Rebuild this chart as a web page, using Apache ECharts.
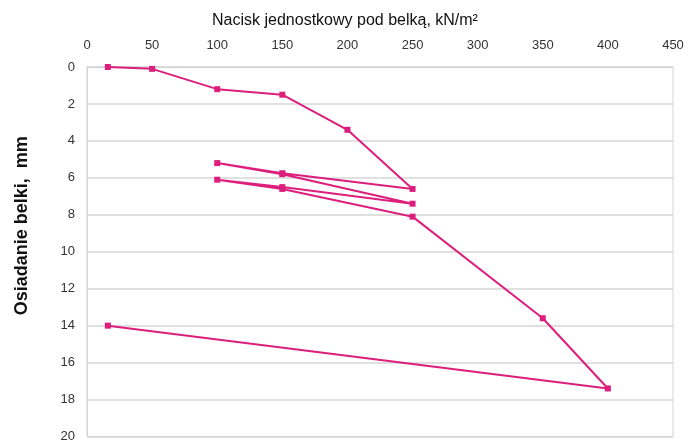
<!DOCTYPE html>
<html>
<head>
<meta charset="utf-8">
<script src="https://cdn.jsdelivr.net/npm/echarts@6/dist/echarts.min.js"></script>
<style>html,body{margin:0;padding:0;background:#fff}#c{width:691px;height:443px}</style>
</head>
<body>
<div id="c"></div>
<script>
var pressure = [16, 50, 100, 150, 200, 250, 150, 100, 150, 250, 150, 100, 150, 250, 350, 400, 16];
var settlement = [0, 0.1, 1.2, 1.5, 3.4, 6.6, 5.75, 5.2, 5.8, 7.4, 6.5, 6.1, 6.6, 8.1, 13.6, 17.4, 14.0];
var xTitle = 'Nacisk jednostkowy pod belką, kN/m²';
var yTitle = 'Osiadanie belki,  mm';

var pts = pressure.map(function (p, i) { return [p, settlement[i]]; });
var chart = echarts.init(document.getElementById('c'), null, {renderer: 'canvas'});
chart.setOption({
  animation: false,
  grid: {left: 87, right: 18, top: 67, bottom: 4, show: true, borderColor: '#d4d4d4', borderWidth: 1},
  xAxis: {
    type: 'value', position: 'top', min: 0, max: 450, interval: 50,
    name: xTitle, nameLocation: 'middle', nameGap: 38,
    nameTextStyle: {fontFamily: 'Liberation Sans, Arial', fontSize: 16, color: '#111', padding: [0, 70, 0, 0]},
    axisLine: {show: true, lineStyle: {color: '#d4d4d4'}},
    axisTick: {show: false},
    splitLine: {show: false},
    axisLabel: {margin: 15, fontFamily: 'Liberation Sans, Arial', fontSize: 13, color: '#333'}
  },
  yAxis: {
    type: 'value', inverse: true, min: 0, max: 20, interval: 2,
    name: yTitle, nameLocation: 'middle', nameGap: 56, nameRotate: 90,
    nameTextStyle: {fontFamily: 'Liberation Sans, Arial', fontSize: 18, fontWeight: 'bold', color: '#111', padding: [0, 0, 0, 52]},
    axisLine: {show: true, lineStyle: {color: '#d4d4d4'}},
    axisTick: {show: false},
    splitLine: {show: true, lineStyle: {color: '#d6d6d6', width: 1.5}},
    axisLabel: {margin: 12, fontFamily: 'Liberation Sans, Arial', fontSize: 13, color: '#333'}
  },
  series: [{
    type: 'line', data: pts,
    symbol: 'rect', symbolSize: 6,
    lineStyle: {color: '#dc1f7c', width: 2},
    itemStyle: {color: '#dc1f7c'}
  }]
});
</script>
</body>
</html>
